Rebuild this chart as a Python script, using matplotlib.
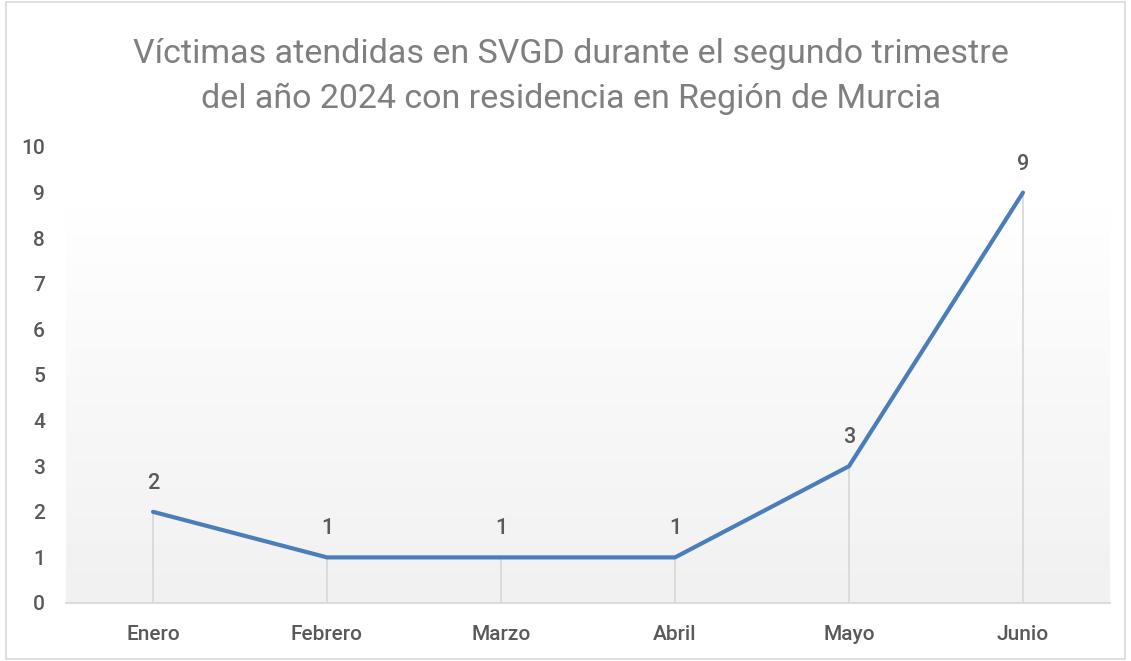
import matplotlib.pyplot as plt
import numpy as np
from matplotlib.patches import Rectangle

meses = ["Enero", "Febrero", "Marzo", "Abril", "Mayo", "Junio"]
victimas = [2, 1, 1, 1, 3, 9]
y_ticks = list(range(0, 11))

plt.rcParams['font.family'] = ['Roboto', 'DejaVu Sans']

fig = plt.figure(figsize=(11.31, 6.61), dpi=100)
fig.patches.append(Rectangle((0.005, 0.003), 0.99, 0.994, transform=fig.transFigure,
                             fill=False, edgecolor="#d9d9d9", linewidth=1.2))

ax = fig.add_axes([66 / 1131, 1 - 603 / 661, (1110 - 66) / 1131, (603 - 147) / 661])

x = np.arange(len(meses)) + 0.5

# gradient background (white at top -> light gray at bottom)
grad = np.linspace(1.0, 0.0, 256).reshape(-1, 1)
top = np.array([1.0, 1.0, 1.0])
bot = np.array([0.945, 0.945, 0.945])
img = top * grad[..., None] + bot * (1 - grad[..., None])
ax.imshow(img, extent=[0, len(meses), 0, 8.7], aspect="auto", zorder=0)

ax.vlines(x, 0, victimas, color="#d9d9d9", linewidth=1.3, zorder=1)
ax.plot(x, victimas, color="#4a7ebb", linewidth=3, solid_capstyle="round", zorder=3)

for xi, v in zip(x, victimas):
    ax.annotate(str(v), (xi, v), xytext=(0, 13), textcoords="offset points",
                ha="center", va="bottom", fontsize=15.5, color="#595959",
                fontweight="medium")

ax.set_xlim(0, len(meses))
ax.set_ylim(0, 10)
ax.set_xticks(x)
ax.set_xticklabels(meses, fontsize=15, color="#595959", fontweight="medium")
ax.set_yticks(y_ticks)
ax.set_yticklabels([str(t) for t in y_ticks], fontsize=15, color="#595959",
                   fontweight="medium")
ax.tick_params(axis="both", length=0)
ax.tick_params(axis="x", pad=16)
ax.tick_params(axis="y", pad=15)
for s in ["top", "right", "left"]:
    ax.spines[s].set_visible(False)
ax.spines["bottom"].set_color("#d9d9d9")
ax.spines["bottom"].set_linewidth(1.3)
ax.set_facecolor("none")

fig.text(0.505, 0.837, "Víctimas atendidas en SVGD durante el segundo trimestre\n"
         "del año 2024 con residencia en Región de Murcia",
         ha="center", va="baseline", fontsize=24.5, color="#7f7f7f", linespacing=1.5,
         fontweight="normal")

fig.savefig("out.png", dpi=100)
